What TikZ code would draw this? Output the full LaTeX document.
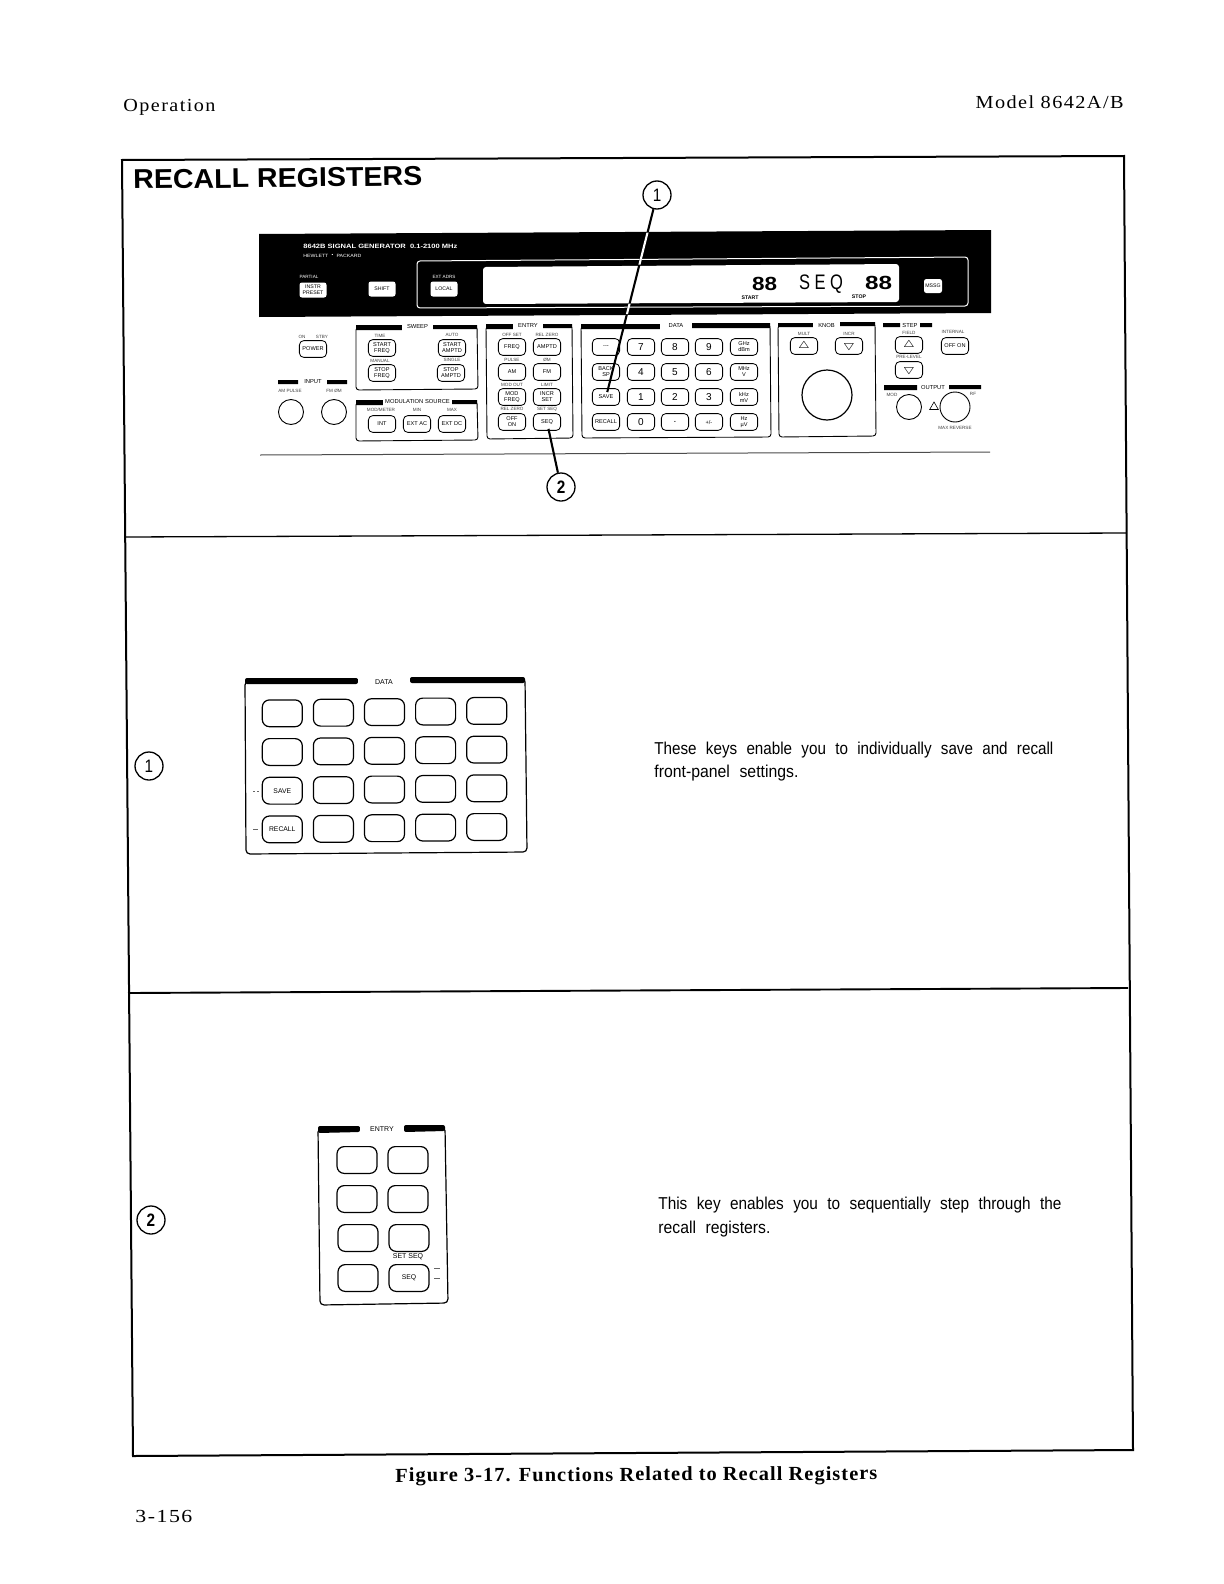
\documentclass[tikz,border=0pt]{standalone}
\usepackage{fontspec}
\usepackage{graphicx}
\usetikzlibrary{shapes.geometric}
\setmainfont{Liberation Serif}
\newfontfamily\hel{Liberation Sans}
\newfontfamily\narrowsans[FakeStretch=0.84,WordSpace=2.2]{Liberation Sans}
\newfontfamily\calloutfont[FakeStretch=0.85]{Liberation Sans}
\newfontfamily\spacedserif[LetterSpace=7]{Liberation Serif}
\newfontfamily\spacedbold[LetterSpace=5,BoldFont={Liberation Serif Bold}]{Liberation Serif}
\newcommand\fitw[2]{\resizebox{#1pt}{\height}{#2}}
\tikzset{
  x=0.5pt,y=-0.5pt,
  pkey/.style={draw,line width=0.42pt,rounded corners=2.2pt,fill=white,inner sep=0pt,minimum width=13.6pt,minimum height=8.4pt,align=center,font=\hel\fontsize{2.8}{3}\selectfont},
  numkey/.style={pkey,font=\hel\fontsize{5}{5}\selectfont},
  arrowkey/.style={pkey,font=\hel\fontsize{3}{3}\selectfont},
  darkkey/.style={fill=white,rounded corners=1.2pt,inner sep=0pt,minimum width=13.5pt,minimum height=7.5pt,align=center,font=\hel\fontsize{2.6}{2.8}\selectfont},
  plabel/.style={inner sep=0pt,text=black!75,font=\hel\fontsize{2.3}{2.5}\selectfont},
  darklabel/.style={plabel,text=white},
  ptitle/.style={inner sep=0pt,font=\hel\fontsize{2.9}{3}\selectfont},
  gaptitle/.style={ptitle,fill=white,inner ysep=0.8pt,minimum width=#1},
  panelline/.style={line width=0.45pt,rounded corners=1.5pt},
  bigkey/.style={draw,line width=0.6pt,rounded corners=3.6pt,inner sep=0pt,minimum width=20pt,minimum height=13.4pt,align=center,font=\hel\fontsize{3.4}{3.6}\selectfont},
  bigbox/.style={line width=0.6pt,rounded corners=2pt},
  jack/.style={draw,circle,line width=0.45pt,inner sep=0pt},
  callout/.style={draw,circle,line width=0.65pt,inner sep=0pt,minimum size=14pt,font=\calloutfont\fontsize{9}{9}\selectfont},
  frameline/.style={line width=1pt},
  leader/.style={line width=1.05pt},
  bodytext/.style={anchor=base west,inner sep=0pt,font=\narrowsans\fontsize{8.6}{10}\selectfont},
  speck/.style={line width=0.3pt,black!60},
}
\newcommand\dkey[3]{%
  \pgfmathsetmacro\kx{282.3+51.1*#2}%
  \pgfmathsetmacro\ky{713.3+38.7*#1-0.6*#2}%
  \node[bigkey] (dk#1#2) at (\kx,\ky) {#3};}
\begin{document}
\begin{tikzpicture}
\fill[white] (0,0) rectangle (1224,1584);
\useasboundingbox (0,0) rectangle (1224,1584);

% page text
\node[anchor=base west,inner sep=0pt,font=\spacedserif\fontsize{9.2}{10}\selectfont] (runhead) at (123,112) {\fitw{46}{Operation}};
\node[anchor=base east,inner sep=0pt,font=\spacedserif\fontsize{9.2}{10}\selectfont] (model) at (1124,109) {\fitw{74}{Model 8642A/B}};
\node[anchor=base west,inner sep=0pt,rotate=0.25,font=\spacedbold\bfseries\fontsize{10}{11}\selectfont] (caption) at (395,1482) {\fitw{241}{Figure 3-17. Functions Related to Recall Registers}};
\node[anchor=base west,inner sep=0pt,font=\spacedserif\fontsize{9.2}{10}\selectfont] (pageno) at (135,1522) {\fitw{28.5}{3-156}};

% outer frame and dividers
\draw[frameline,line join=miter] (122,160) -- (1124,156) -- (1133,1450) -- (133,1456) -- cycle;
\draw[line width=0.65pt] (125,537) -- (1126,533);
\draw[line width=0.95pt] (128,993) -- (1128,988);
\node[anchor=base west,inner sep=0pt,rotate=0.7,font=\hel\bfseries\fontsize{13.6}{15}\selectfont] (heading) at (133,189) {\fitw{144.5}{RECALL REGISTERS}};

% instrument: black band
\fill[black] (259,234) -- (991,230) -- (991,313) -- (259,317) -- cycle;
\draw[white,line width=0.5pt,rounded corners=1.5pt] (417,261) -- (968,257) -- (968,306) -- (417,308) -- cycle;
\fill[white,rounded corners=1.5pt] (483,267) -- (899,264) -- (899,302) -- (483,304) -- cycle;
\draw[black!70,line width=0.5pt] (260,455) -- (990,452);
\node[ptitle,text=white,anchor=west,font=\hel\bfseries\fontsize{3.1}{3.2}\selectfont] (ptitle1) at (303,246) {\fitw{77}{8642B SIGNAL GENERATOR\ \ 0.1-2100 MHz}};
\node[darklabel,anchor=west] (ptitle2) at (303,255) {\fitw{29}{HEWLETT $\cdot$ PACKARD}};
\node[darklabel] (partial) at (309,277) {PARTIAL};
\node[darkkey] (preset) at (313,290) {INSTR\\PRESET};
\node[darkkey] (shift) at (382,289) {SHIFT};
\node[darklabel] (adrs) at (444,277) {EXT ADRS};
\node[darkkey] (local) at (444,289) {LOCAL};
\node[darkkey,minimum width=9pt,minimum height=7pt] (mssg) at (933,286) {MSSG};
\node[inner sep=0pt,font=\hel\bfseries\fontsize{9.5}{10}\selectfont] (dstart) at (764.5,284) {\fitw{12.5}{88}};
\node[inner sep=0pt,font=\hel\fontsize{10.5}{11}\selectfont] (dseq) at (821,284) {\fitw{22}{S E Q}};
\node[inner sep=0pt,font=\hel\bfseries\fontsize{9.5}{10}\selectfont] (dstop) at (878.5,283) {\fitw{13.5}{88}};
\node[ptitle,font=\hel\bfseries\fontsize{2.6}{3}\selectfont] (lstart) at (750,298) {START};
\node[ptitle,font=\hel\bfseries\fontsize{2.6}{3}\selectfont] (lstop) at (859,297) {STOP};

% power and input
\node[plabel] (lon) at (302,337) {ON};
\node[plabel] (lstby) at (322,337) {STBY};
\node[pkey] (power) at (313,349) {POWER};
\fill (278,380) rectangle (298,384) (327,380) rectangle (347,384);
\node[ptitle] (linput) at (313,382) {INPUT};
\node[plabel] (lam) at (290,391) {AM PULSE};
\node[plabel] (lfm) at (334,391) {FM ØM};
\node[jack,minimum size=12.5pt] (jam) at (291,412) {};
\node[jack,minimum size=12.5pt] (jfm) at (334,412) {};

% sweep
\draw[panelline] (356,327) -- (477,326) -- (478,389) -- (356,390) -- cycle;
\fill (356,325) rectangle (402,330) (433,325) rectangle (477,329);
\node[gaptitle=15.5pt] (lsweep) at (417.5,327) {SWEEP};
\node[plabel] (ltime) at (380,336) {TIME};
\node[plabel] (lauto) at (452,335) {AUTO};
\node[plabel] (lmanual) at (380,361) {MANUAL};
\node[plabel] (lsingle) at (452,360) {SINGLE};
\node[pkey] (sfreq) at (382,348) {START\\FREQ};
\node[pkey] (stfreq) at (382,373) {STOP\\FREQ};
\node[pkey] (samp) at (452,348) {START\\AMPTD};
\node[pkey] (stamp) at (451,373) {STOP\\AMPTD};

% modulation source
\draw[panelline] (356,402) -- (477,401) -- (478,440) -- (356,441) -- cycle;
\fill (356,400) rectangle (383,405) (452,400) rectangle (477,404);
\node[gaptitle=34.5pt] (lmod) at (417.5,402) {MODULATION SOURCE};
\node[plabel] (lmeter) at (381,410) {MOD/METER};
\node[plabel] (lmin) at (417,410) {MIN};
\node[plabel] (lmax) at (452,410) {MAX};
\node[pkey] (kint) at (382,424) {INT};
\node[pkey] (kac) at (417,424) {EXT AC};
\node[pkey] (kdc) at (452,424) {EXT DC};

% entry
\draw[panelline] (486,326) -- (572,325) -- (573,438) -- (487,439) -- cycle;
\fill (486,324) rectangle (513,329) (543,324) rectangle (572,328);
\node[gaptitle=15pt] (lentry) at (528,326) {ENTRY};
\node[plabel] (e1) at (512,335) {OFF SET};
\node[plabel] (e2) at (547,335) {REL ZERO};
\node[plabel] (e3) at (512,360) {PULSE};
\node[plabel] (e4) at (547,360) {ØM};
\node[plabel] (e5) at (512,385) {MOD OUT};
\node[plabel] (e6) at (547,385) {LIMIT};
\node[plabel] (e7) at (512,409) {REL ZERO};
\node[plabel] (e8) at (547,409) {SET SEQ};
\node[pkey] (kfreq) at (512,347) {FREQ};
\node[pkey] (kamptd) at (547,347) {AMPTD};
\node[pkey] (kam) at (512,372) {AM};
\node[pkey] (kfm) at (547,372) {FM};
\node[pkey] (kmf) at (512,397) {MOD\\FREQ};
\node[pkey] (kincr) at (547,397) {INCR\\SET};
\node[pkey] (koff) at (512,422) {OFF\\ON};
\node[pkey] (kseq) at (547,422) {SEQ};

% data
\draw[panelline] (581,326) -- (770,324) -- (771,437) -- (582,438) -- cycle;
\fill (581,324) rectangle (660,329) (692,323) rectangle (770,328);
\node[gaptitle=16pt] (ldata) at (676,326) {DATA};
\node[pkey] (k00) at (606,347) {---};
\node[numkey] (k01) at (641,347) {7};
\node[numkey] (k02) at (675,347) {8};
\node[numkey] (k03) at (709,347) {9};
\node[pkey] (k04) at (744,347) {GHz\\dBm};
\node[pkey] (k10) at (606,372) {BACK\\SP};
\node[numkey] (k11) at (641,372) {4};
\node[numkey] (k12) at (675,372) {5};
\node[numkey] (k13) at (709,372) {6};
\node[pkey] (k14) at (744,372) {MHz\\V};
\node[pkey] (ksave) at (606,397) {SAVE};
\node[numkey] (k21) at (641,397) {1};
\node[numkey] (k22) at (675,397) {2};
\node[numkey] (k23) at (709,397) {3};
\node[pkey] (k24) at (744,397) {kHz\\mV};
\node[pkey] (krecall) at (606,422) {RECALL};
\node[numkey] (k31) at (641,422) {0};
\node[numkey] (k32) at (675,422) {.};
\node[pkey] (k33) at (709,422) {+/-};
\node[pkey] (k34) at (744,422) {Hz\\µV};

% knob
\draw[panelline] (778,325) -- (875,323) -- (876,436) -- (779,437) -- cycle;
\fill (778,323) rectangle (813,327) (840,322) rectangle (875,326);
\node[gaptitle=13.5pt] (lknob) at (826.5,325) {KNOB};
\node[plabel] (lmult) at (804,334) {MULT};
\node[plabel] (lincr) at (849,334) {INCR};
\node[arrowkey] (kleft) at (804,346) {$\triangle$};
\node[arrowkey] (kright) at (849,346) {$\bigtriangledown$};
\node[jack,line width=0.6pt,minimum size=25pt] (knob) at (827,395) {};

% step
\fill (883,323) rectangle (900,327) (920,323) rectangle (932,327);
\node[ptitle] (lstep) at (910,325) {STEP};
\node[plabel] (lfield) at (909,333) {FIELD};
\node[plabel] (lint) at (953,332) {INTERNAL};
\node[plabel] (lpre) at (909,357) {PRE-LEVEL};
\node[arrowkey] (kup) at (909,345) {$\triangle$};
\node[pkey] (konoff) at (955,346) {OFF ON};
\node[arrowkey] (kdn) at (909,370) {$\bigtriangledown$};

% output
\fill (884,385) rectangle (917,390) (949,385) rectangle (981,389);
\node[ptitle] (lout) at (933,388) {OUTPUT};
\node[plabel] (lmodout) at (892,395) {MOD};
\node[plabel] (lrf) at (973,394) {RF};
\node[jack,minimum size=12.5pt] (jmod) at (909,407) {};
\node[jack,minimum size=15pt] (jrf) at (955,407) {};
\node[draw,regular polygon,regular polygon sides=3,line width=0.3pt,inner sep=0pt,minimum size=5pt] (tri) at (934,407) {};
\node[plabel] (lrev) at (955,428) {MAX REVERSE};

% callouts
\node[callout] (c1) at (657,195) {1};
\node[callout] (c2) at (561,487) {\textbf{2}};
\draw[leader,shorten >=-2pt] (c1) -- (ksave);
\begin{scope}
  \clip (620,232.5) rectangle (670,264.5) (620,303.5) rectangle (670,314);
  \draw[leader,white] (c1) -- (ksave);
\end{scope}
\draw[leader,shorten >=-1pt] (c2) -- (kseq);

% section 1
\node[callout] (c1b) at (149,766) {1};
\draw[bigbox] (245,681) -- (525,678) -- (527,852) -- (246,854) -- cycle;
\fill[rounded corners=1pt] (245,684) -- (245,678) -- (358,678) -- (358,684) -- cycle;
\fill[rounded corners=1pt] (410,683) -- (410,677) -- (525,677) -- (525,683) -- cycle;
\node[gaptitle=26pt,font=\hel\fontsize{3.5}{4}\selectfont] (ldata2) at (384,682) {DATA};
\dkey{0}{0}{}\dkey{0}{1}{}\dkey{0}{2}{}\dkey{0}{3}{}\dkey{0}{4}{}
\dkey{1}{0}{}\dkey{1}{1}{}\dkey{1}{2}{}\dkey{1}{3}{}\dkey{1}{4}{}
\dkey{2}{0}{SAVE}\dkey{2}{1}{}\dkey{2}{2}{}\dkey{2}{3}{}\dkey{2}{4}{}
\dkey{3}{0}{RECALL}\dkey{3}{1}{}\dkey{3}{2}{}\dkey{3}{3}{}\dkey{3}{4}{}
\draw[speck] (253,791) -- (255,791) (257,791) -- (259,791) (253,829) -- (258,829);
\node[bodytext] (t1a) at (654,754) {\fitw{199.5}{These keys enable you to individually save and recall}};
\node[bodytext] (t1b) at (654,777) {\fitw{72}{front-panel settings.}};

% section 2
\node[callout] (c2b) at (151,1220) {\textbf{2}};
\draw[bigbox] (318,1128) -- (445,1127) -- (448,1303) -- (320,1305) -- cycle;
\fill[rounded corners=1pt] (318,1133) -- (318,1126) -- (360,1126) -- (360,1132) -- cycle;
\fill[rounded corners=1pt] (404,1132) -- (404,1125) -- (445,1125) -- (445,1131) -- cycle;
\node[gaptitle=22pt,font=\hel\fontsize{3.5}{4}\selectfont] (lentry2) at (382,1129) {ENTRY};
\node[bigkey] (e00) at (357,1160) {};
\node[bigkey] (e01) at (408,1160) {};
\node[bigkey] (e10) at (357,1199) {};
\node[bigkey] (e11) at (408,1199) {};
\node[bigkey] (e20) at (358,1238) {};
\node[bigkey] (e21) at (409,1238) {};
\node[bigkey] (e30) at (358,1278) {};
\node[bigkey] (e31) at (409,1278) {SEQ};
\node[ptitle,font=\hel\fontsize{3.5}{4}\selectfont] (lsetseq) at (408,1257) {SET SEQ};
\draw[speck] (434,1268) -- (440,1268) (434,1278) -- (440,1278);
\node[bodytext] (t2a) at (658,1209) {\fitw{201.5}{This key enables you to sequentially step through the}};
\node[bodytext] (t2b) at (658,1233) {\fitw{56}{recall registers.}};
\end{tikzpicture}
\end{document}
